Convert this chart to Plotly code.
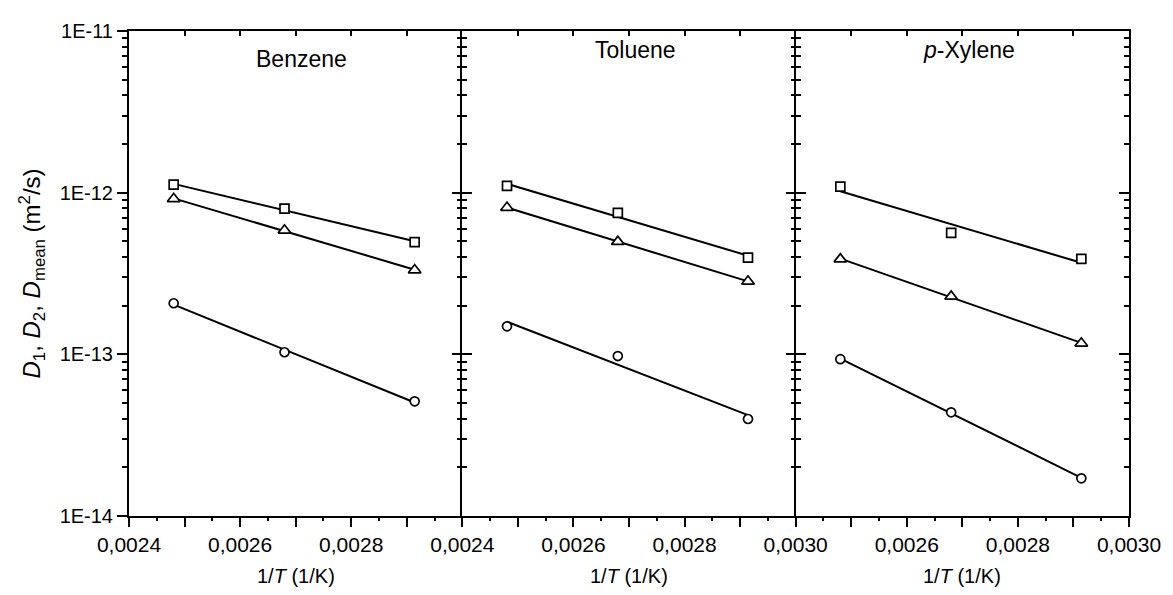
import numpy as np
import plotly.graph_objects as go

# ---- data ----
inv_T = [0.0024804, 0.0026799, 0.0029142]          # 1/T (1/K)
panel_names = ["Benzene", "Toluene", "<i>p</i>-Xylene"]

benzene_sq = [1.12e-12, 7.96e-13, 4.95e-13]
benzene_tri = [9.16e-13, 5.85e-13, 3.32e-13]
benzene_circ = [2.07e-13, 1.03e-13, 5.12e-14]

toluene_sq = [1.10e-12, 7.50e-13, 3.97e-13]
toluene_tri = [8.09e-13, 4.98e-13, 2.83e-13]
toluene_circ = [1.49e-13, 9.76e-14, 3.98e-14]

xylene_sq = [1.09e-12, 5.64e-13, 3.90e-13]
xylene_tri = [3.88e-13, 2.28e-13, 1.17e-13]
xylene_circ = [9.33e-14, 4.38e-14, 1.71e-14]

# labelled ticks per panel
x_lab_vals = [[0.0024, 0.0026, 0.0028],
              [0.0024, 0.0026, 0.0028, 0.0030],
              [0.0026, 0.0028, 0.0030]]
x_lab_text = [["0,0024", "0,0026", "0,0028"],
              ["0,0024", "0,0026", "0,0028", "0,0030"],
              ["0,0026", "0,0028", "0,0030"]]
# unlabelled major ticks per panel
x_unlab_vals = [[0.0025, 0.0027, 0.0029, 0.0030],
                [0.0025, 0.0027, 0.0029],
                [0.0024, 0.0025, 0.0027, 0.0029]]
x_all_major = [0.0024, 0.0025, 0.0026, 0.0027, 0.0028, 0.0029, 0.0030]
x_half_vals = [0.00245, 0.00255, 0.00265, 0.00275, 0.00285, 0.00295]

y_tickvals = [1e-14, 1e-13, 1e-12, 1e-11]
y_ticktext = ["1E-14", "1E-13", "1E-12", "1E-11"]
y_minor_vals = [m * 10.0 ** e for e in (-14, -13, -12) for m in range(2, 10)]

panels = [
    (benzene_sq, benzene_tri, benzene_circ),
    (toluene_sq, toluene_tri, toluene_circ),
    (xylene_sq, xylene_tri, xylene_circ),
]
symbols = ["square", "triangle-up", "circle"]
sizes = [9, 11, 9]

FONT = "Liberation Sans, Arial, sans-serif"
XR = [0.0024, 0.0030]
YR = [-14, -11]

fig = go.Figure()


def ax(n, letter):
    return letter if n == 1 else f"{letter}{n}"


for i, series in enumerate(panels):
    xa, ya = ax(i + 1, "x"), ax(i + 1, "y")
    for vals, sym, sz in zip(series, symbols, sizes):
        xs = np.array(inv_T)
        ly = np.log10(np.array(vals))
        k, b = np.polyfit(xs, ly, 1)
        xl = np.array([xs.min(), xs.max()])
        fig.add_trace(go.Scatter(x=xl, y=10 ** (k * xl + b), mode="lines",
                                 line=dict(color="black", width=2),
                                 xaxis=xa, yaxis=ya, showlegend=False,
                                 hoverinfo="skip"))
        fig.add_trace(go.Scatter(x=inv_T, y=vals, mode="markers",
                                 marker=dict(symbol=sym, size=sz, color="white",
                                             line=dict(color="black", width=1.7)),
                                 xaxis=xa, yaxis=ya, showlegend=False))
    # helper traces so the extra (mirror / tick) axes exist
    for extra_x in (ax(i + 4, "x"), ax(i + 7, "x")):
        fig.add_trace(go.Scatter(x=[None], y=[None], xaxis=extra_x, yaxis=ya,
                                 showlegend=False, hoverinfo="skip"))
    fig.add_trace(go.Scatter(x=[None], y=[None], xaxis=xa, yaxis=ax(i + 4, "y"),
                             showlegend=False, hoverinfo="skip"))

domains = [[0, 1 / 3], [1 / 3, 2 / 3], [2 / 3, 1]]
layout = dict(
    width=1165, height=587,
    margin=dict(l=121, r=35, t=14, b=79),
    plot_bgcolor="white", paper_bgcolor="white",
    font=dict(family=FONT, size=20, color="black"),
    showlegend=False,
)

tick_common = dict(tickwidth=1.5, tickcolor="black", showgrid=False, zeroline=False)

for i in range(3):
    n = i + 1
    xa, ya = ax(n, "x"), ax(n, "y")
    xn = "xaxis" if n == 1 else f"xaxis{n}"
    yn = "yaxis" if n == 1 else f"yaxis{n}"
    # bottom axis: labelled majors + unlabelled majors (as minor, same length)
    layout[xn] = dict(
        domain=domains[i], anchor=ya, range=XR,
        tickmode="array", tickvals=x_lab_vals[i], ticktext=x_lab_text[i],
        ticks="outside", ticklen=9,
        minor=dict(tickmode="array", tickvals=x_unlab_vals[i], ticks="outside",
                   ticklen=9, tickwidth=1.5, tickcolor="black"),
        showline=True, linewidth=2, linecolor="black",
        tickfont=dict(size=21), **tick_common,
    )
    # top mirror axis with inward ticks
    layout[f"xaxis{i+4}"] = dict(
        overlaying=xa, side="top", anchor=ya, range=XR,
        tickmode="array", tickvals=x_all_major,
        ticks="inside", ticklen=5, showticklabels=False,
        showline=True, linewidth=2, linecolor="black", **tick_common,
    )
    # short half-step ticks at the bottom
    layout[f"xaxis{i+7}"] = dict(
        overlaying=xa, side="bottom", anchor=ya, range=XR,
        tickmode="array", tickvals=x_half_vals,
        ticks="outside", ticklen=4, showticklabels=False,
        showline=False, **tick_common,
    )
    layout[yn] = dict(
        type="log", range=YR, anchor=xa, domain=[0, 1],
        tickmode="array", tickvals=y_tickvals, ticktext=y_ticktext,
        ticks="outside" if i == 0 else "inside", ticklen=10,
        minor=dict(tickmode="array", tickvals=y_minor_vals,
                   ticks="outside" if i == 0 else "inside",
                   ticklen=5, tickwidth=1.5, tickcolor="black"),
        showticklabels=(i == 0),
        showline=True, linewidth=2, linecolor="black",
        tickfont=dict(size=20), **tick_common,
    )
    layout[f"yaxis{i+4}"] = dict(
        type="log", range=YR, overlaying=ya, side="right", anchor=xa,
        tickmode="array", tickvals=y_tickvals,
        ticks="inside", ticklen=10,
        minor=dict(tickmode="array", tickvals=y_minor_vals, ticks="inside",
                   ticklen=5, tickwidth=1.5, tickcolor="black"),
        showticklabels=False, showline=(i == 2), linewidth=2, linecolor="black",
        **tick_common,
    )

fig.update_layout(**layout)

title_pos = [(0.518, 0.943), (0.52, 0.96), (0.52, 0.96)]
for i in range(3):
    xa, ya = ax(i + 1, "x"), ax(i + 1, "y")
    fig.add_annotation(text=panel_names[i], x=title_pos[i][0], y=title_pos[i][1],
                       xref=f"{xa} domain", yref=f"{ya} domain",
                       showarrow=False, font=dict(size=23, family=FONT),
                       xanchor="center", yanchor="middle")
    fig.add_annotation(text="1/<i>T</i> (1/K)", x=0.5, y=-0.1235,
                       xref=f"{xa} domain", yref="paper",
                       showarrow=False, font=dict(size=20, family=FONT),
                       xanchor="center", yanchor="middle")

fig.add_annotation(text="<i>D</i><sub>1</sub>, <i>D</i><sub>2</sub>, <i>D</i><sub>mean</sub> (m<sup>2</sup>/s)",
                   x=-0.098, y=0.5, xref="paper", yref="paper", textangle=-90,
                   showarrow=False, font=dict(size=24, family=FONT),
                   xanchor="center", yanchor="middle")

fig.write_html("out.html")
